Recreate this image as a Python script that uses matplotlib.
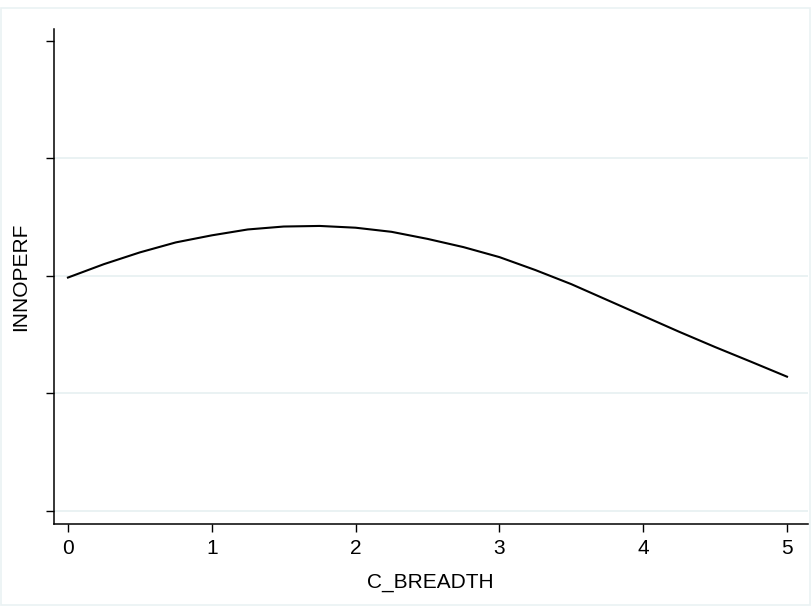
import matplotlib
matplotlib.use("Agg")
import matplotlib.pyplot as plt
from matplotlib.patches import Rectangle

plt.rcParams['font.family'] = ['Liberation Sans', 'DejaVu Sans']

# values
c_breadth = [0.0, 0.25, 0.5, 0.75, 1.0, 1.25, 1.5, 1.75, 2.0, 2.25, 2.5,
             2.75, 3.0, 3.25, 3.5, 3.75, 4.0, 4.25, 4.5, 4.75, 5.0]
innoperf = [1.986, 2.10, 2.20, 2.285, 2.345, 2.395, 2.42, 2.425, 2.41, 2.375, 2.315,
            2.245, 2.16, 2.05, 1.93, 1.795, 1.66, 1.525, 1.395, 1.27, 1.143]
x_ticks = [0, 1, 2, 3, 4, 5]
y_ticks = [0, 1, 2, 3, 4]
grid_levels = [0, 1, 2, 3]

grid_col = '#eaf2f3'

fig = plt.figure(figsize=(8.11, 6.06), dpi=100)
ax = fig.add_axes([54 / 811, 82 / 606, 754 / 811, 495 / 606])

# outer graph frame
fig.patches.append(Rectangle((0.5 / 811, 1.5 / 606), 809 / 811, 597 / 606,
                             transform=fig.transFigure, fill=False,
                             edgecolor=grid_col, lw=1.2))

for g in grid_levels:
    ax.axhline(g, color=grid_col, lw=1.4, zorder=1)

ax.plot(c_breadth, innoperf, color='black', lw=1.5, zorder=3,
        solid_joinstyle='round')

ax.set_xlim(-0.097, 5.146)
ax.set_ylim(-0.11, 4.1)
ax.set_xticks(x_ticks)
ax.set_xticklabels([str(t) for t in x_ticks])
ax.set_yticks(y_ticks)
ax.set_yticklabels([])

for s in ['top', 'right']:
    ax.spines[s].set_visible(False)
for s in ['left', 'bottom']:
    ax.spines[s].set_linewidth(1.1)
    ax.spines[s].set_color('black')

ax.tick_params(axis='x', length=6, width=1.0, labelsize=15, pad=5)
ax.tick_params(axis='y', length=6, width=1.0)

fig.text(430 / 811, 1 - 582 / 606, 'C_BREADTH', fontsize=15,
         ha='center', va='center')
fig.text(21 / 811, 1 - 277 / 606, 'INNOPERF', fontsize=15,
         ha='center', va='center', rotation=90)

fig.savefig('out.png', dpi=100)
